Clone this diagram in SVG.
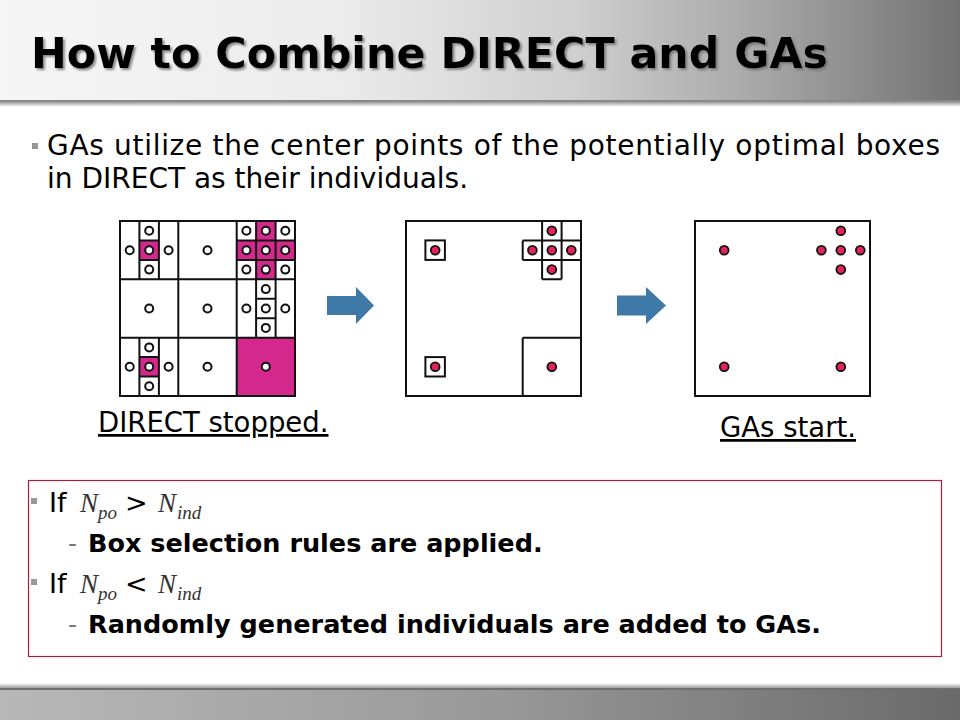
<svg xmlns="http://www.w3.org/2000/svg" width="960" height="720" viewBox="0 0 960 720">
<defs>
<linearGradient id="hdr" x1="0" y1="0" x2="1" y2="0">
<stop offset="0" stop-color="#f6f6f6"/>
<stop offset="0.35" stop-color="#ececec"/>
<stop offset="0.6" stop-color="#cfcfcf"/>
<stop offset="0.8" stop-color="#a5a5a5"/>
<stop offset="1" stop-color="#727272"/>
</linearGradient>
<linearGradient id="ftr" x1="0" y1="0" x2="1" y2="0">
<stop offset="0" stop-color="#b8b8b8"/>
<stop offset="0.5" stop-color="#9a9a9a"/>
<stop offset="1" stop-color="#6a6a6a"/>
</linearGradient>
<linearGradient id="shd" x1="0" y1="0" x2="0" y2="1">
<stop offset="0" stop-color="#9a9a9a"/>
<stop offset="1" stop-color="#ffffff"/>
</linearGradient>
<linearGradient id="shdf" x1="0" y1="1" x2="0" y2="0">
<stop offset="0" stop-color="#a0a0a0"/>
<stop offset="1" stop-color="#ffffff"/>
</linearGradient>
<filter id="tshadow" x="-5%" y="-20%" width="110%" height="140%">
<feDropShadow dx="2" dy="2" stdDeviation="0.8" flood-color="#6e6e6e" flood-opacity="0.8"/>
</filter>
</defs>
<style>
.title{font-family:"DejaVu Sans",Verdana,sans-serif;font-weight:bold;font-size:43px}
.body{font-family:"DejaVu Sans",Verdana,sans-serif;font-size:28px;fill:#000}
.lab{font-family:"DejaVu Sans",Verdana,sans-serif;font-size:27.5px;fill:#000;text-decoration:underline}
.reg{font-family:"DejaVu Sans",Verdana,sans-serif;font-size:27px;fill:#000}
.bold{font-family:"DejaVu Sans",Verdana,sans-serif;font-size:25.5px;font-weight:bold;fill:#000}
.dash{font-family:"DejaVu Sans",Verdana,sans-serif;font-size:25px;fill:#777}
.mi{font-family:"Liberation Serif","Times New Roman",serif;font-style:italic;font-size:27px;fill:#333}
.ms{font-family:"Liberation Serif","Times New Roman",serif;font-style:italic;font-size:19px;fill:#333}
.grid{fill:none;stroke:#111;stroke-width:2}
.mag{fill:#d4288c}
.oc{fill:#fff;stroke:#111;stroke-width:2}
.rd{fill:#e3245a;stroke:#111;stroke-width:1.8}
.arrow{fill:#3e79a7}
.bul{fill:#999}
</style>
<rect x="0" y="0" width="960" height="720" fill="#fff"/>
<g id="header">
<rect x="0" y="0" width="960" height="100" fill="url(#hdr)"/>
<rect x="0" y="100" width="960" height="2" fill="#8a8a8a"/>
<rect x="0" y="102" width="960" height="5" fill="url(#shd)"/>
<text x="31" y="68" class="title" fill="#000" filter="url(#tshadow)" textLength="797" lengthAdjust="spacingAndGlyphs">How to Combine DIRECT and GAs</text>
</g>
<g id="footer">
<rect x="0" y="683" width="960" height="5" fill="url(#shdf)"/>
<rect x="0" y="688" width="960" height="2" fill="#6f6f6f"/>
<rect x="0" y="690" width="960" height="30" fill="url(#ftr)"/>
</g>
<g id="intro">
<rect x="32" y="143" width="6" height="6" class="bul"/>
<text x="47" y="155" class="body" textLength="893" lengthAdjust="spacing">GAs utilize the center points of the potentially optimal boxes</text>
<text x="47" y="188" class="body">in DIRECT as their individuals.</text>
</g>
<g id="grid-direct">
<rect x="139.4" y="240.4" width="19.5" height="19.5" class="mag"/>
<rect x="256.1" y="221" width="19.5" height="19.4" class="mag"/>
<rect x="236.7" y="240.4" width="58.3" height="19.5" class="mag"/>
<rect x="256.1" y="259.9" width="19.5" height="19.4" class="mag"/>
<rect x="139.4" y="357.1" width="19.5" height="19.4" class="mag"/>
<rect x="236.7" y="337.7" width="58.3" height="58.3" class="mag"/>
<rect x="120" y="221" width="175" height="175" class="grid"/>
<path class="grid" d="M178.3 221V396M236.7 221V396M120 279.3H295M120 337.7H295
M139.4 221V279.3M158.9 221V279.3M139.4 240.4H158.9M139.4 259.9H158.9
M256.1 221V279.3M275.6 221V279.3M236.7 240.4H295M236.7 259.9H295
M256.1 279.3V337.7M275.6 279.3V337.7M256.1 298.8H275.6M256.1 318.2H275.6
M139.4 337.7V396M158.9 337.7V396M139.4 357.1H158.9M139.4 376.5H158.9"/>
<g class="oc">
<circle cx="129.7" cy="250.2" r="4"/><circle cx="149.2" cy="230.7" r="4"/><circle cx="149.2" cy="250.2" r="4"/><circle cx="149.2" cy="269.6" r="4"/><circle cx="168.6" cy="250.2" r="4"/>
<circle cx="207.5" cy="250.2" r="4"/>
<circle cx="246.4" cy="230.7" r="4"/><circle cx="265.8" cy="230.7" r="4"/><circle cx="285.3" cy="230.7" r="4"/>
<circle cx="246.4" cy="250.2" r="4"/><circle cx="265.8" cy="250.2" r="4"/><circle cx="285.3" cy="250.2" r="4"/>
<circle cx="246.4" cy="269.6" r="4"/><circle cx="265.8" cy="269.6" r="4"/><circle cx="285.3" cy="269.6" r="4"/>
<circle cx="149.2" cy="308.5" r="4"/><circle cx="207.5" cy="308.5" r="4"/>
<circle cx="246.4" cy="308.5" r="4"/><circle cx="265.8" cy="289.1" r="4"/><circle cx="265.8" cy="308.5" r="4"/><circle cx="265.8" cy="327.9" r="4"/><circle cx="285.3" cy="308.5" r="4"/>
<circle cx="129.7" cy="366.8" r="4"/><circle cx="149.2" cy="347.4" r="4"/><circle cx="149.2" cy="366.8" r="4"/><circle cx="149.2" cy="386.2" r="4"/><circle cx="168.6" cy="366.8" r="4"/>
<circle cx="207.5" cy="366.8" r="4"/><circle cx="265.8" cy="366.8" r="4"/>
</g>
</g>
<g id="grid-selected">
<rect x="406" y="221" width="175" height="175" class="grid"/>
<rect x="425.4" y="240.4" width="19.5" height="19.5" class="grid"/>
<rect x="425.4" y="357.1" width="19.5" height="19.4" class="grid"/>
<path class="grid" d="M522.7 337.7H581M522.7 337.7V396
M542.1 221V279.3M561.6 221V279.3M522.7 240.4H581M522.7 259.9H581M522.7 240.4V259.9M542.1 279.3H561.6"/>
<g class="rd">
<circle cx="435.2" cy="250.2" r="4.4"/>
<circle cx="551.8" cy="230.7" r="4.4"/><circle cx="532.4" cy="250.2" r="4.4"/><circle cx="551.8" cy="250.2" r="4.4"/><circle cx="571.3" cy="250.2" r="4.4"/><circle cx="551.8" cy="269.6" r="4.4"/>
<circle cx="435.2" cy="366.8" r="4.4"/><circle cx="551.8" cy="366.8" r="4.4"/>
</g>
</g>
<g id="grid-ga">
<rect x="695" y="221" width="175" height="175" class="grid"/>
<g class="rd">
<circle cx="724.2" cy="250.2" r="4.4"/>
<circle cx="840.8" cy="230.7" r="4.4"/><circle cx="821.4" cy="250.2" r="4.4"/><circle cx="840.8" cy="250.2" r="4.4"/><circle cx="860.3" cy="250.2" r="4.4"/><circle cx="840.8" cy="269.6" r="4.4"/>
<circle cx="724.2" cy="366.8" r="4.4"/><circle cx="840.8" cy="366.8" r="4.4"/>
</g>
</g>
<g id="connectors">
<polygon class="arrow" points="327,296 356,296 356,287 374,305.5 356,324 356,315 327,315"/>
<polygon class="arrow" points="617,295.5 646,295.5 646,287 666,305.5 646,324 646,315.5 617,315.5"/>
</g>
<g id="labels">
<text x="98" y="432" class="lab">DIRECT stopped.</text>
<text x="720" y="437" class="lab">GAs start.</text>
</g>
<g id="rules">
<rect x="28.5" y="480.5" width="913" height="176" fill="none" stroke="#a3213f" stroke-width="1.2"/>
<rect x="31" y="498" width="6" height="6" class="bul"/>
<text x="49" y="512" class="reg">If</text>
<text x="80" y="512" class="mi">N</text>
<text x="98" y="519" class="ms">po</text>
<text x="125" y="512" class="reg">&gt;</text>
<text x="158" y="512" class="mi">N</text>
<text x="177" y="519" class="ms">ind</text>
<text x="68" y="552" class="dash">-</text>
<text x="88" y="552" class="bold">Box selection rules are applied.</text>
<rect x="31" y="579" width="6" height="6" class="bul"/>
<text x="49" y="593" class="reg">If</text>
<text x="80" y="593" class="mi">N</text>
<text x="98" y="600" class="ms">po</text>
<text x="125" y="593" class="reg">&lt;</text>
<text x="158" y="593" class="mi">N</text>
<text x="177" y="600" class="ms">ind</text>
<text x="68" y="633" class="dash">-</text>
<text x="88" y="633" class="bold">Randomly generated individuals are added to GAs.</text>
</g>
</svg>
